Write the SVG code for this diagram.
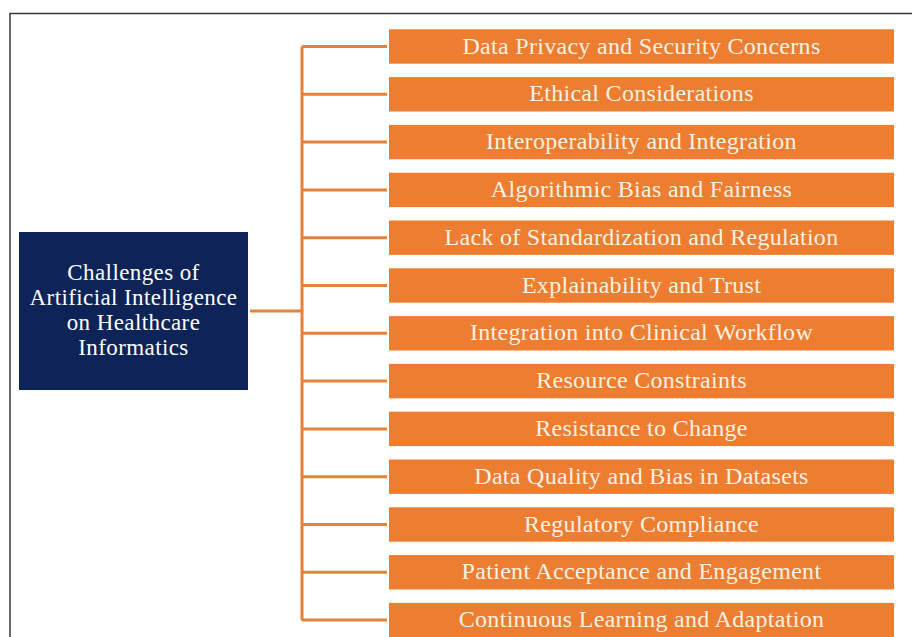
<svg xmlns="http://www.w3.org/2000/svg" width="912" height="637" viewBox="0 0 912 637">
  <style>
    .frame { fill: none; stroke: #3a3a3a; stroke-width: 1.5; }
    .root-box { fill: #0E2459; }
    .root-text { font-family: "Liberation Serif", "Times New Roman", serif; font-size: 23px; letter-spacing: 0.4px; fill: #FFFFFF; text-anchor: middle; }
    .item-box { fill: #ED7D31; }
    .item-text { font-family: "Liberation Serif", "Times New Roman", serif; font-size: 24px; letter-spacing: 0.3px; fill: #FDF1E2; text-anchor: middle; }
    .link { fill: none; stroke: #E8803C; stroke-width: 3; }
  </style>
  <rect width="912" height="637" fill="#FFFFFF"/>
  <path class="frame" d="M10,637 V13.5 H912"/>

  <g id="connectors">
    <path class="link" d="M250,311 H302"/>
    <path class="link" d="M302,46.5 V620.5"/>
    <path class="link" d="M302,46.5 H387 M302,94.3 H387 M302,142.1 H387 M302,189.9 H387 M302,237.7 H387 M302,285.5 H387 M302,333.3 H387 M302,381.1 H387 M302,428.9 H387 M302,476.7 H387 M302,524.5 H387 M302,572.3 H387 M302,620.1 H387"/>
  </g>

  <g id="root">
    <rect class="root-box" x="19" y="232" width="229" height="158"/>
    <text class="root-text" x="133.5" y="280">Challenges of</text>
    <text class="root-text" x="133.5" y="304.5">Artificial Intelligence</text>
    <text class="root-text" x="133.5" y="330">on Healthcare</text>
    <text class="root-text" x="133.5" y="355">Informatics</text>
  </g>

  <g id="item1"><rect class="item-box" x="389" y="29.3" width="505" height="34.4"/><text class="item-text" x="641.5" y="53.5">Data Privacy and Security Concerns</text></g>
  <g id="item2"><rect class="item-box" x="389" y="77.1" width="505" height="34.4"/><text class="item-text" x="641.5" y="101.3">Ethical Considerations</text></g>
  <g id="item3"><rect class="item-box" x="389" y="124.9" width="505" height="34.4"/><text class="item-text" x="641.5" y="149.1">Interoperability and Integration</text></g>
  <g id="item4"><rect class="item-box" x="389" y="172.7" width="505" height="34.4"/><text class="item-text" x="641.5" y="196.9">Algorithmic Bias and Fairness</text></g>
  <g id="item5"><rect class="item-box" x="389" y="220.5" width="505" height="34.4"/><text class="item-text" x="641.5" y="244.7">Lack of Standardization and Regulation</text></g>
  <g id="item6"><rect class="item-box" x="389" y="268.3" width="505" height="34.4"/><text class="item-text" x="641.5" y="292.5">Explainability and Trust</text></g>
  <g id="item7"><rect class="item-box" x="389" y="316.1" width="505" height="34.4"/><text class="item-text" x="641.5" y="340.3">Integration into Clinical Workflow</text></g>
  <g id="item8"><rect class="item-box" x="389" y="363.9" width="505" height="34.4"/><text class="item-text" x="641.5" y="388.1">Resource Constraints</text></g>
  <g id="item9"><rect class="item-box" x="389" y="411.7" width="505" height="34.4"/><text class="item-text" x="641.5" y="435.9">Resistance to Change</text></g>
  <g id="item10"><rect class="item-box" x="389" y="459.5" width="505" height="34.4"/><text class="item-text" x="641.5" y="483.7">Data Quality and Bias in Datasets</text></g>
  <g id="item11"><rect class="item-box" x="389" y="507.3" width="505" height="34.4"/><text class="item-text" x="641.5" y="531.5">Regulatory Compliance</text></g>
  <g id="item12"><rect class="item-box" x="389" y="555.1" width="505" height="34.4"/><text class="item-text" x="641.5" y="579.3">Patient Acceptance and Engagement</text></g>
  <g id="item13"><rect class="item-box" x="389" y="602.9" width="505" height="34.4"/><text class="item-text" x="641.5" y="627.1">Continuous Learning and Adaptation</text></g>
</svg>
